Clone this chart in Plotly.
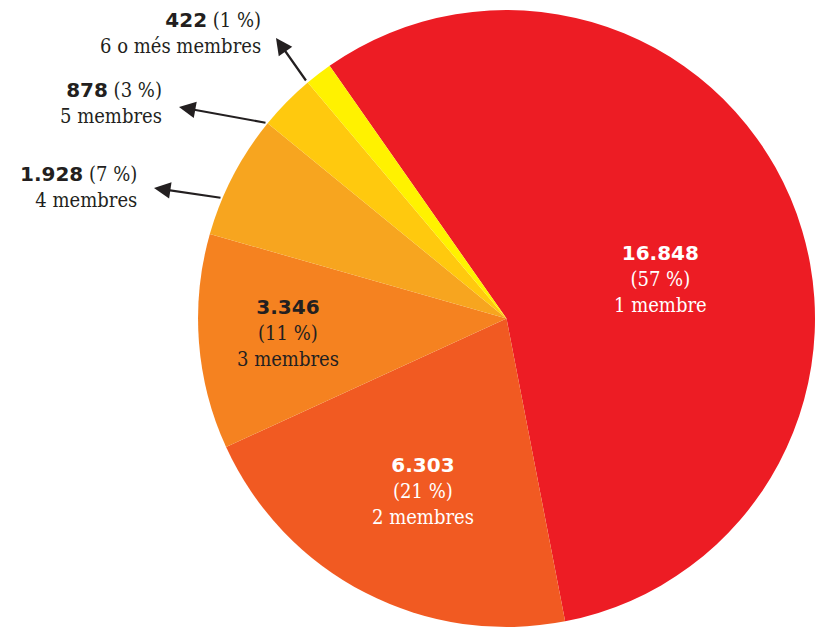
import plotly.graph_objects as go

categories = ["1 membre", "2 membres", "3 membres", "4 membres", "5 membres", "6 o més membres"]
values = [16848, 6303, 3346, 1928, 878, 422]
percents = [57, 21, 11, 7, 3, 1]
colors = ["#ED1C24", "#F15A22", "#F58220", "#F7A51F", "#FFC90E", "#FFF200"]

W, H = 815, 627

def fmt(v):
    return f"{v:,}".replace(",", ".")

fig = go.Figure(go.Pie(
    labels=categories, values=values, sort=False, direction="clockwise",
    rotation=-35, textinfo="none", hole=0,
    marker=dict(colors=colors, line=dict(width=0)),
    domain=dict(x=[0.243, 1.0], y=[0.0, 0.984]),
    showlegend=False,
))

NUMF = "DejaVu Sans, Roboto, sans-serif"
TXTF = "DejaVu Serif Condensed, DejaVu Serif, serif"

def px(x, y):
    return x / W, 1 - y / H

def num(v):
    return f"<span style='font-family:{NUMF}'><b>{fmt(v)}</b></span>"

annotations = []

# inside labels: (index, center x, center y, color)
inside = [(0, 660, 279, "white"), (1, 423, 491, "white"), (2, 288, 333, "#231F20")]
for i, cx, cy, col in inside:
    x, y = px(cx, cy)
    annotations.append(dict(
        x=x, y=y, xref="paper", yref="paper", showarrow=False,
        text=f"{num(values[i])}<br>({percents[i]} %)<br>{categories[i]}",
        font=dict(family=TXTF, size=20, color=col), align="center",
        xanchor="center", yanchor="middle",
    ))

# outside labels: (index, right x, center y, arrow tip, arrow tail)
outside = [
    (5, 263, 33, (276, 38), (307, 82)),
    (4, 164, 103, (179, 107), (267, 123)),
    (3, 139, 187, (154, 188), (222, 198)),
]
for i, rx, cy, tip, tail in outside:
    x, y = px(rx, cy)
    annotations.append(dict(
        x=x, y=y, xref="paper", yref="paper", showarrow=False,
        text=f"{num(values[i])} ({percents[i]} %)<br>{categories[i]}",
        font=dict(family=TXTF, size=20, color="#231F20"), align="right",
        xanchor="right", yanchor="middle",
    ))
    tx, ty = px(*tip)
    annotations.append(dict(
        x=tx, y=ty, xref="paper", yref="paper", text="", showarrow=True,
        ax=tail[0] - tip[0], ay=tail[1] - tip[1],
        arrowhead=2, arrowsize=1.5, arrowwidth=2.2, arrowcolor="#231F20",
    ))

fig.update_layout(
    width=W, height=H, margin=dict(l=0, r=0, t=0, b=0),
    paper_bgcolor="white", plot_bgcolor="white",
    annotations=annotations,
)

fig.write_html(
    "out.html",
    config={"displayModeBar": False},
    post_script="document.body.style.margin='0';document.body.style.overflow='hidden';",
)
